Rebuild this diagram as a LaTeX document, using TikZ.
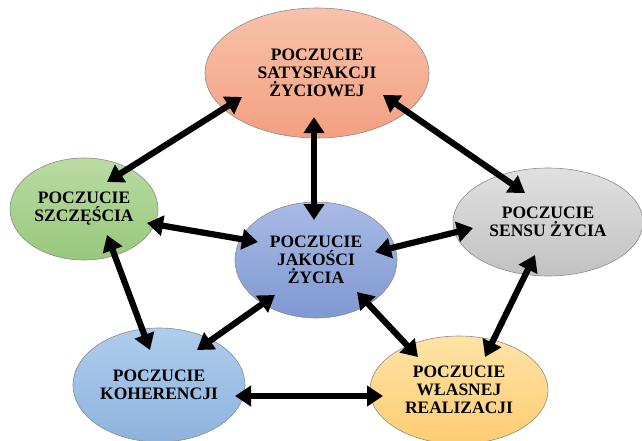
\documentclass[tikz,border=0pt]{standalone}
\usepackage{fontspec}
\setmainfont{Liberation Serif}
\usetikzlibrary{shapes.geometric,arrows.meta,calc}
\definecolor{satT}{HTML}{F8C2AA}\definecolor{satB}{HTML}{F3A081}
\definecolor{szcT}{HTML}{B9DBA2}\definecolor{szcB}{HTML}{98C87C}
\definecolor{senT}{HTML}{E0E0E0}\definecolor{senB}{HTML}{C2C2C2}
\definecolor{jakT}{HTML}{A9BBE6}\definecolor{jakB}{HTML}{7F98D2}
\definecolor{kohT}{HTML}{AFCDEC}\definecolor{kohB}{HTML}{8DB3DE}
\definecolor{reaT}{HTML}{FFE3A6}\definecolor{reaB}{HTML}{FDCD72}
\tikzset{
  bubble/.style={ellipse, draw=black!45, line width=0.6pt, align=center, inner sep=0pt,
    font=\bfseries\fontsize{17.5}{18}\selectfont},
  dbl/.style={line width=6.2pt, {Triangle[length=16pt,width=20pt]}-{Triangle[length=16pt,width=20pt]}}
}
\begin{document}
\begin{tikzpicture}[x=1pt,y=-1pt]
\useasboundingbox (0,0) rectangle (642,441);
\node[bubble, minimum width=224pt, minimum height=130pt, top color=satT, bottom color=satB] (sat) at (317,73) {POCZUCIE\\SATYSFAKCJI\\ŻYCIOWEJ};
\node[bubble, minimum width=148pt, minimum height=102pt, top color=szcT, bottom color=szcB] (szc) at (84,209) {POCZUCIE\\SZCZĘŚCIA};
\node[bubble, minimum width=190pt, minimum height=108pt, top color=senT, bottom color=senB] (sen) at (548,222) {POCZUCIE\\SENSU ŻYCIA};
\node[bubble, minimum width=162pt, minimum height=116pt, top color=jakT, bottom color=jakB] (jak) at (316,260) {POCZUCIE\\JAKOŚCI\\ŻYCIA};
\node[bubble, minimum width=172pt, minimum height=114pt, top color=kohT, bottom color=kohB] (koh) at (159,385) {POCZUCIE\\KOHERENCJI};
\node[bubble, minimum width=178pt, minimum height=108pt, top color=reaT, bottom color=reaB] (rea) at (459,390) {POCZUCIE\\WŁASNEJ\\REALIZACJI};
\draw[dbl] ($(sat)+(-75,24)$) -- ($(szc)+(23,-27)$);
\draw[dbl] ($(sat)+(-3,44)$) -- ($(jak)+(-2,-40)$);
\draw[dbl] ($(sat)+(66,22)$) -- ($(sen)+(-23,-29)$);
\draw[dbl] ($(szc)+(63,14)$) -- ($(jak)+(-58,-18)$);
\draw[dbl] ($(jak)+(59,-8)$) -- ($(sen)+(-75,6)$);
\draw[dbl] ($(szc)+(23,26)$) -- ($(koh)+(-9,-35)$);
\draw[dbl] ($(jak)+(-41,35)$) -- ($(koh)+(38,-35)$);
\draw[dbl] ($(jak)+(41,32)$) -- ($(rea)+(-41,-33)$);
\draw[dbl] ($(sen)+(-13,33)$) -- ($(rea)+(26,-33)$);
\draw[dbl] ($(koh)+(76,11)$) -- ($(rea)+(-76,6)$);
\end{tikzpicture}
\end{document}
